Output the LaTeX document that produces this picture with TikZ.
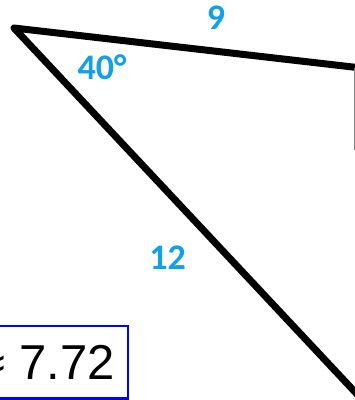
\documentclass[tikz,border=0pt]{standalone}
\usepackage{fontspec}
\setmainfont{Liberation Sans}
\newfontfamily\labfont{Carlito}
\definecolor{labblue}{RGB}{18,160,230}
\definecolor{boxblue}{RGB}{0,0,255}
\tikzset{
  side/.style={line width=7pt, line join=round, line cap=round, black},
  lab/.style={text=labblue, font=\labfont\bfseries\fontsize{36}{36}\selectfont, inner sep=0pt},
  ansbox/.style={draw=boxblue, line width=2.5pt},
  ans/.style={font=\fontsize{49}{49}\selectfont, inner sep=0pt, anchor=base east}
}
\begin{document}
\begin{tikzpicture}[x=1pt,y=1pt]
\useasboundingbox (0,0) rectangle (355,400);
\clip (0,0) rectangle (355,400);
\coordinate (A) at (14,372);
\coordinate (B) at (370,331);
\coordinate (C) at (370,-8);
\draw[side] (C) -- (A) -- (B);
\draw[gray, line width=1pt] (354.5,332) -- (354.5,250);
\node[lab] (nine) at (216,382) {9};
\node[lab] (ang) at (102,333) {40°};
\node[lab] (twelve) at (167.5,142) {12};
\draw[ansbox] (-60,74) rectangle (128,1.5);
\node[ans] (val) at (115,20) {≈ 7.72};
\end{tikzpicture}
\end{document}
